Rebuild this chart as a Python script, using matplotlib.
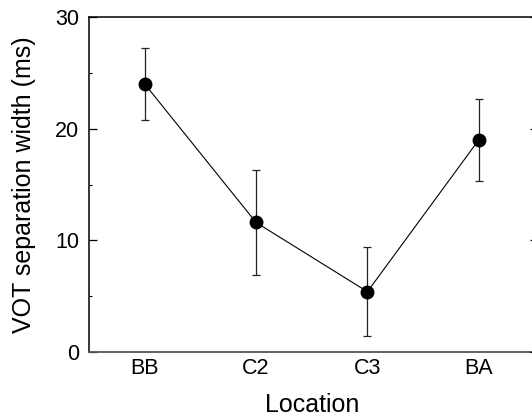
import matplotlib
matplotlib.use("Agg")
import matplotlib.pyplot as plt
from matplotlib.ticker import MultipleLocator

locations = ["BB", "C2", "C3", "BA"]
means = [24.0, 11.6, 5.4, 19.0]
errors = [3.2, 4.7, 4.0, 3.7]
y_ticks = [0, 10, 20, 30]

plt.rcParams['font.family'] = ['Liberation Sans', 'DejaVu Sans']

fig = plt.figure(figsize=(5.32, 4.19), dpi=100)
ax = fig.add_axes([89/532, 67/419, 445.5/532, 335/419])

x = list(range(len(locations)))
ax.plot(x, means, color='black', lw=0.8, zorder=2)
ax.errorbar(x, means, yerr=errors, fmt='none', ecolor='#222222',
            elinewidth=0.9, capsize=3, capthick=0.9, zorder=1)
ax.plot(x, means, 'o', color='black', markersize=9, zorder=3)

ax.set_xlim(-0.5, 3.5)
ax.set_ylim(0, 30)
ax.set_xticks(x)
ax.set_xticklabels(locations)
ax.set_yticks(y_ticks)
ax.yaxis.set_minor_locator(MultipleLocator(5))

ax.tick_params(axis='x', length=0, labelsize=15.5, pad=4.5)
ax.tick_params(axis='y', which='major', direction='in', length=5.5, width=0.9,
               labelsize=15.5, pad=7, left=True, right=False)
ax.tick_params(axis='y', which='minor', direction='in', length=2.5, width=0.8,
               left=True, right=False)

ax2 = ax.twinx()
ax2.set_ylim(0, 30)
ax2.set_yticks(y_ticks)
ax2.yaxis.set_minor_locator(MultipleLocator(5))
ax2.tick_params(axis='y', which='major', direction='in', length=3.5, width=0.9,
                labelright=False)
ax2.tick_params(axis='y', which='minor', direction='in', length=1.5, width=0.8)
for s in ax2.spines.values():
    s.set_visible(False)

for name in ['left', 'top', 'right']:
    ax.spines[name].set_color('black')
    ax.spines[name].set_linewidth(1.1)
ax.spines['bottom'].set_color('#555555')
ax.spines['bottom'].set_linewidth(1.3)

ax.set_xlabel("Location", fontsize=18)
ax.set_ylabel("VOT separation width (ms)", fontsize=18)
ax.xaxis.set_label_coords(0.5, -0.122)
ax.yaxis.set_label_coords(-0.118, 0.5)

fig.savefig("out.png", dpi=100)
